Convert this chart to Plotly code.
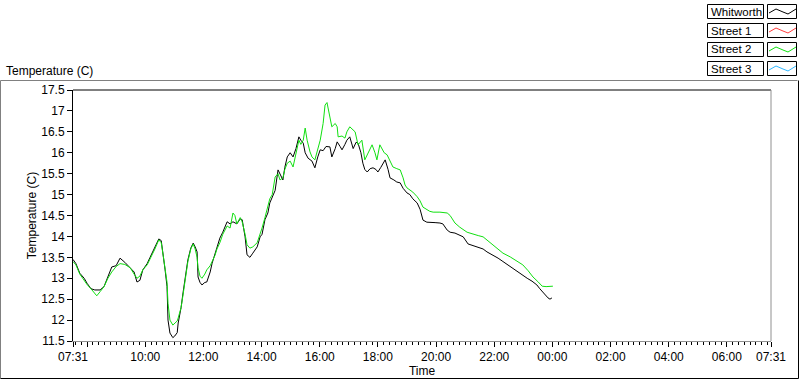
import plotly.graph_objects as go
from datetime import datetime, timedelta

# ---------------- data ----------------
whit_times = ["07:31","07:37","07:45","07:54","08:00","08:08","08:16","08:27","08:35","08:43","08:51","09:00","09:08","09:18","09:29","09:37","09:43","09:49","09:55","10:04","10:10","10:20","10:28","10:33","10:37","10:41","10:45","10:47","10:51","10:57","11:01","11:06","11:08","11:14","11:18","11:24","11:28","11:34","11:39","11:43","11:47","11:49","11:53","11:57","12:03","12:07","12:14","12:18","12:24","12:28","12:34","12:40","12:49","12:55","13:01","13:09","13:16","13:20","13:26","13:30","13:36","13:42","13:51","13:57","14:01","14:07","14:13","14:17","14:22","14:28","14:34","14:38","14:44","14:48","14:53","14:59","15:05","15:11","15:17","15:21","15:26","15:30","15:36","15:44","15:50","15:56","16:01","16:07","16:13","16:21","16:25","16:32","16:36","16:42","16:46","16:52","16:56","17:02","17:09","17:15","17:19","17:25","17:29","17:33","17:38","17:44","17:50","17:56","18:00","18:06","18:15","18:21","18:25","18:33","18:39","18:46","18:52","19:00","19:06","19:12","19:21","19:27","19:33","19:41","19:47","19:58","20:08","20:14","20:23","20:29","20:39","20:49","20:56","21:06","21:16","21:27","21:37","21:45","21:55","22:08","22:18","22:28","22:37","22:47","22:57","23:08","23:18","23:28","23:34","23:41","23:47","23:51","23:55","23:59"]
whit_vals = [13.45,13.35,13.12,13.0,12.88,12.75,12.72,12.72,12.8,13.05,13.27,13.3,13.48,13.38,13.24,13.15,12.91,12.95,13.2,13.35,13.5,13.75,13.94,13.9,13.6,13.2,12.8,12.0,11.69,11.58,11.62,11.7,11.93,12.3,12.65,13.1,13.44,13.72,13.84,13.75,13.63,13.03,12.9,12.84,12.9,12.91,13.15,13.36,13.6,13.75,13.96,14.1,14.35,14.3,14.35,14.3,14.42,14.4,13.99,13.56,13.5,13.6,13.75,13.99,14.05,14.4,14.56,14.8,14.92,15.1,15.59,15.5,15.35,15.65,15.9,16.0,15.9,16.1,16.38,16.3,16.23,16.0,15.87,15.8,15.64,15.9,16.07,16.05,16.15,16.14,15.9,16.1,16.26,16.15,16.07,16.2,16.3,16.38,16.1,16.25,16.23,16.0,15.75,15.6,15.54,15.62,15.64,15.6,15.54,15.65,15.83,15.6,15.4,15.35,15.3,15.28,15.15,15.04,15.0,14.9,14.8,14.65,14.39,14.34,14.34,14.33,14.32,14.3,14.15,14.1,14.08,14.02,13.99,13.82,13.78,13.75,13.7,13.63,13.57,13.48,13.4,13.32,13.25,13.15,13.08,13.0,12.93,12.84,12.75,12.65,12.58,12.53,12.5,12.53]

st2_times = ["07:31","07:37","07:45","07:54","08:00","08:08","08:16","08:20","08:27","08:35","08:43","08:51","09:00","09:08","09:18","09:29","09:37","09:43","09:49","09:55","10:04","10:10","10:20","10:28","10:33","10:37","10:41","10:45","10:47","10:51","10:57","11:01","11:06","11:08","11:14","11:18","11:24","11:28","11:34","11:39","11:43","11:47","11:49","11:53","11:57","12:03","12:07","12:14","12:18","12:24","12:28","12:34","12:40","12:49","12:55","13:01","13:05","13:09","13:16","13:20","13:26","13:30","13:36","13:42","13:51","13:57","14:01","14:07","14:13","14:17","14:22","14:28","14:34","14:38","14:44","14:48","14:53","14:59","15:05","15:11","15:17","15:21","15:26","15:30","15:34","15:40","15:44","15:50","15:56","16:01","16:07","16:11","16:15","16:17","16:21","16:25","16:32","16:36","16:38","16:46","16:52","16:56","17:02","17:09","17:13","17:19","17:27","17:33","17:40","17:48","17:54","17:58","18:04","18:13","18:19","18:25","18:31","18:39","18:46","18:52","18:56","19:00","19:06","19:12","19:21","19:27","19:33","19:41","19:47","19:54","20:08","20:23","20:29","20:39","20:49","21:04","21:16","21:27","21:37","21:51","22:06","22:18","22:33","22:45","22:59","23:10","23:20","23:30","23:39","23:47","23:55","00:01"]
st2_vals = [13.4,13.32,13.1,12.95,12.85,12.75,12.62,12.58,12.68,12.8,13.0,13.15,13.28,13.35,13.33,13.25,13.1,13.0,13.05,13.2,13.32,13.45,13.7,13.92,13.85,13.55,13.2,12.9,12.4,12.0,11.88,11.93,11.98,12.05,12.3,12.6,13.05,13.4,13.7,13.82,13.7,13.5,13.25,13.05,13.0,13.1,13.2,13.3,13.4,13.55,13.7,13.85,14.05,14.25,14.2,14.56,14.5,14.3,14.45,14.35,14.05,13.8,13.72,13.75,13.85,14.05,14.2,14.45,14.7,14.9,15.0,15.42,15.5,15.35,15.4,15.6,15.75,15.8,15.66,15.95,16.3,16.2,16.3,16.59,16.3,16.02,15.9,15.83,16.1,16.3,16.7,17.14,17.2,17.07,16.9,16.62,16.7,16.62,16.38,16.4,16.35,16.5,16.62,16.55,16.5,16.19,16.3,15.83,16.0,16.19,16.0,15.83,16.19,16.0,15.95,15.8,15.66,15.62,15.59,15.4,15.23,15.16,15.12,15.06,14.95,14.85,14.7,14.65,14.6,14.58,14.58,14.56,14.5,14.32,14.22,14.1,14.05,14.02,13.99,13.85,13.72,13.6,13.51,13.42,13.32,13.18,13.03,12.92,12.81,12.8,12.81,12.81]

series_names = ["Whitworth", "Street 1", "Street 2", "Street 3"]
series_colors = ["#000000", "#ff3c3c", "#10e010", "#30b8ff"]

y_ticks = [11.5, 12, 12.5, 13, 13.5, 14, 14.5, 15, 15.5, 16, 16.5, 17, 17.5]
x_tick_times = ["07:31", "08:00", "10:00", "12:00", "14:00", "16:00", "18:00", "20:00", "22:00",
                "00:00", "02:00", "04:00", "06:00", "07:31+"]
x_tick_text = ["07:31", "", "10:00", "12:00", "14:00", "16:00", "18:00", "20:00", "22:00",
               "00:00", "02:00", "04:00", "06:00", "07:31"]

BASE = datetime(2000, 1, 1)


def to_dt(s):
    nextday = s.endswith("+")
    s = s.rstrip("+")
    h, m = map(int, s.split(":"))
    d = BASE + timedelta(hours=h, minutes=m)
    if nextday or h * 60 + m < 7 * 60 + 31:
        d += timedelta(days=1)
    return d


# ---------------- geometry (pixels) ----------------
W, H = 800, 380
PL, PR, PT, PB = 73, 771, 90, 341  # plot area


def px(x):
    return (x - PL) / (PR - PL)


def py(y):
    return (PB - y) / (PB - PT)


fig = go.Figure()
fig.add_trace(go.Scatter(x=[to_dt(t) for t in whit_times], y=whit_vals, mode="lines",
                         line=dict(color=series_colors[0], width=1), name=series_names[0]))
fig.add_trace(go.Scatter(x=[to_dt(t) for t in st2_times], y=st2_vals, mode="lines",
                         line=dict(color=series_colors[2], width=1), name=series_names[2]))

FONT = "Liberation Sans"
shapes = []
annotations = []

# plot frame: top black, right gray
shapes.append(dict(type="line", xref="paper", yref="paper", x0=0, x1=1, y0=1, y1=1,
                   line=dict(color="black", width=1)))
shapes.append(dict(type="line", xref="paper", yref="paper", x0=1, x1=1, y0=0, y1=1,
                   line=dict(color="#909090", width=1)))

# outer panel
shapes.append(dict(type="line", xref="paper", yref="paper", x0=px(0.5), x1=px(797.5), y0=py(80.5), y1=py(80.5),
                   line=dict(color="#808080", width=1)))
shapes.append(dict(type="line", xref="paper", yref="paper", x0=px(0.5), x1=px(0.5), y0=py(80.5), y1=py(378.5),
                   line=dict(color="#808080", width=1)))
shapes.append(dict(type="line", xref="paper", yref="paper", x0=px(0.5), x1=px(798.5), y0=py(378.5), y1=py(378.5),
                   line=dict(color="black", width=1)))
shapes.append(dict(type="line", xref="paper", yref="paper", x0=px(798.5), x1=px(798.5), y0=py(80.5), y1=py(378.5),
                   line=dict(color="black", width=1)))

# legend (custom, like LabVIEW plot legend)
row_top = [4, 23, 42, 61]
zig = [(0, 8), (7, 4), (14, 7), (19, 9), (27, 4)]
for i, name in enumerate(series_names):
    t = row_top[i]
    shapes.append(dict(type="rect", xref="paper", yref="paper",
                       x0=px(707.5), x1=px(763.5), y0=py(t + 0.5), y1=py(t + 14.5),
                       line=dict(color="black", width=1), fillcolor="white"))
    shapes.append(dict(type="rect", xref="paper", yref="paper",
                       x0=px(767.5), x1=px(796.5), y0=py(t + 0.5), y1=py(t + 14.5),
                       line=dict(color="black", width=1), fillcolor="white"))
    path = " ".join(("M" if k == 0 else "L") + f" {px(769 + dx)},{py(t + 1 + dy)}"
                    for k, (dx, dy) in enumerate(zig))
    shapes.append(dict(type="path", xref="paper", yref="paper", path=path,
                       line=dict(color=series_colors[i], width=1)))
    annotations.append(dict(text=name, xref="paper", yref="paper", x=px(709), y=py(t + 7.5),
                            xanchor="left", yanchor="middle", showarrow=False,
                            font=dict(family=FONT, size=11.5, color="black")))

# chart title at top-left
annotations.append(dict(text="Temperature (C)", xref="paper", yref="paper", x=px(4), y=py(71),
                        xanchor="left", yanchor="middle", showarrow=False,
                        font=dict(family=FONT, size=12, color="black")))

fig.update_layout(
    width=W, height=H,
    margin=dict(l=PL, r=W - PR, t=PT, b=H - PB),
    paper_bgcolor="white", plot_bgcolor="white",
    showlegend=False,
    font=dict(family=FONT, size=12, color="black"),
    shapes=shapes, annotations=annotations,
    xaxis=dict(
        type="date", automargin=False,
        range=[to_dt("07:31"), to_dt("07:31+")],
        tickvals=[to_dt(t) for t in x_tick_times], ticktext=x_tick_text,
        ticks="outside", ticklen=5, tickcolor="black", tickwidth=1,
        minor=dict(ticks="outside", ticklen=3, tickcolor="black", dtick=12 * 60 * 1000,
                   tick0=to_dt("08:00"), showgrid=False),
        showgrid=False, zeroline=False,
        showline=True, linecolor="#909090", linewidth=1,
        title=dict(text="Time", font=dict(family=FONT, size=12), standoff=2),
        tickfont=dict(family=FONT, size=12),
    ),
    yaxis=dict(
        automargin=False,
        range=[11.5, 17.5],
        tickvals=y_ticks, ticktext=[f"{v:g}" for v in y_ticks],
        ticks="outside", ticklen=5, tickcolor="black", tickwidth=1,
        showgrid=False, zeroline=False,
        showline=True, linecolor="black", linewidth=1,
        title=dict(text="Temperature (C)", font=dict(family=FONT, size=12), standoff=2),
        tickfont=dict(family=FONT, size=12),
    ),
)

fig.write_html("out.html", config={"displayModeBar": False},
               post_script="document.body.style.margin='0';document.body.style.padding='0';")
